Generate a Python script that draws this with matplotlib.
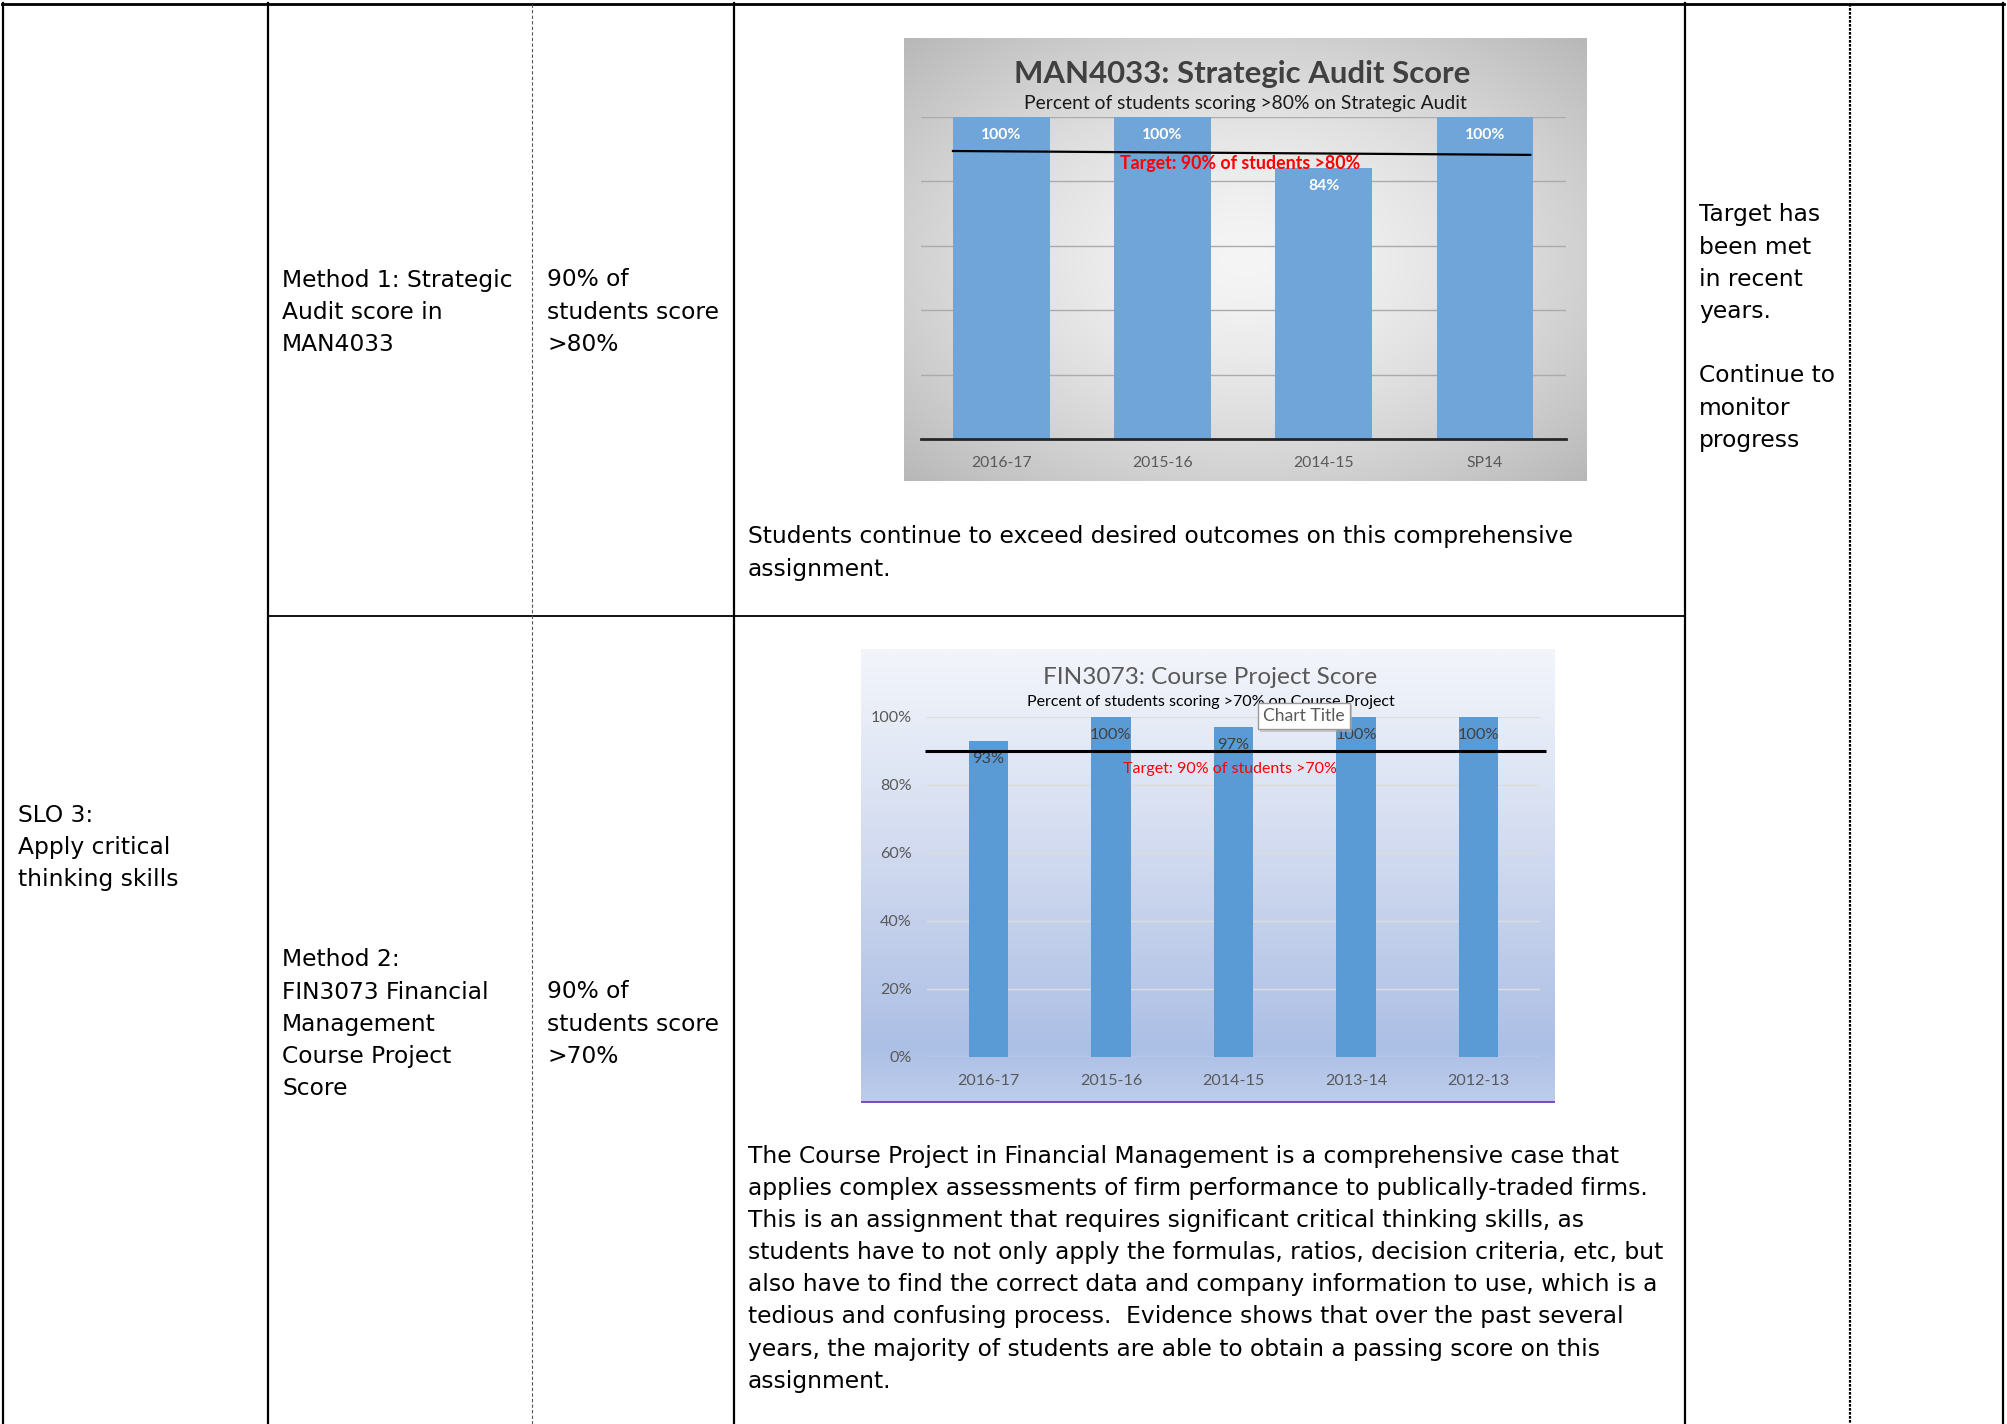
import numpy as np
import matplotlib
matplotlib.use('Agg')
import matplotlib.pyplot as plt

W, H = 2007, 1424

# ---- data ----
audit_years = ['2016-17', '2015-16', '2014-15', 'SP14']
audit_scores = [100, 100, 84, 100]
audit_target = [89.3, 88.1]   # hand drawn target line, slightly tilted

project_years = ['2016-17', '2015-16', '2014-15', '2013-14', '2012-13']
project_scores = [93, 100, 97, 100, 100]
project_target = 90

slo_text = ['SLO 3:', 'Apply critical', 'thinking skills']
method1_text = ['Method 1: Strategic', 'Audit score in', 'MAN4033']
target1_text = ['90% of', 'students score', '>80%']
result1_text = ['Students continue to exceed desired outcomes on this comprehensive',
                'assignment.']
method2_text = ['Method 2:', 'FIN3073 Financial', 'Management', 'Course Project', 'Score']
target2_text = ['90% of', 'students score', '>70%']
result2_text = [
    'The Course Project in Financial Management is a comprehensive case that',
    'applies complex assessments of firm performance to publically-traded firms.',
    'This is an assignment that requires significant critical thinking skills, as',
    'students have to not only apply the formulas, ratios, decision criteria, etc, but',
    'also have to find the correct data and company information to use, which is a',
    'tedious and confusing process.  Evidence shows that over the past several',
    'years, the majority of students are able to obtain a passing score on this',
    'assignment.',
]
action_text = ['Target has', 'been met', 'in recent', 'years.', '',
               'Continue to', 'monitor', 'progress']

CH = ['Lato', 'DejaVu Sans']
TB = 'DejaVu Sans'


def rect(x0, y0, x1, y1):
    return [x0 / W, 1 - y1 / H, (x1 - x0) / W, (y1 - y0) / H]


def fx(x):
    return x / W


def fy(y):
    return 1 - y / H


fig = plt.figure(figsize=(W / 100, H / 100), dpi=100)
fig.patch.set_facecolor('white')

# ---- table ----
ax0 = fig.add_axes([0, 0, 1, 1])
ax0.set_xlim(0, W)
ax0.set_ylim(H, 0)
ax0.set_axis_off()

for xv in [3, 268, 734, 1685, 2003]:
    ax0.plot([xv, xv], [3, H], color='black', lw=1.6)
ax0.plot([2, 2004], [4, 4], color='black', lw=2)
ax0.plot([268, 1685], [616, 616], color='black', lw=1.3)
ax0.plot([532, 532], [4, H], color='#555555', lw=0.8, linestyle=(0, (3, 2)))
ax0.plot([1850, 1850], [4, H], color='black', lw=1.6, linestyle=(0, (1.2, 0.6)))


def lines(x, y0, rows, size=16.8, pitch=32.2):
    for i, r in enumerate(rows):
        ax0.text(x, y0 + i * pitch, r, fontsize=size, family=TB,
                 ha='left', va='center', color='black')


lines(18, 815, slo_text)
lines(282, 280, method1_text)
lines(547, 280, target1_text)
lines(1699, 215, action_text)
lines(748, 537, result1_text)
lines(282, 960, method2_text)
lines(547, 992, target2_text)
lines(748, 1156, result2_text)

# ---- chart 1: strategic audit ----
bg1 = fig.add_axes(rect(904, 38, 1587, 481))
yy, xx = np.mgrid[-1:1:200j, -1:1:300j]
r = np.sqrt(xx ** 2 + yy ** 2) / np.sqrt(2)
shade = np.clip(0.96 - 0.24 * r ** 1.5, 0, 1)
bg1.imshow(np.dstack([shade] * 3), aspect='auto', extent=[0, 1, 0, 1],
           interpolation='bilinear')
bg1.set_axis_off()

p1 = fig.add_axes(rect(920.7, 116.5, 1565.7, 439))
p1.patch.set_alpha(0)
x1 = np.arange(len(audit_years))
p1.bar(x1, audit_scores, width=0.6, color='#6FA5D8', zorder=2)
p1.set_xlim(-0.5, 3.5)
p1.set_ylim(0, 100)
p1.set_yticks([20, 40, 60, 80, 100])
p1.yaxis.grid(True, color='#ABABAB', lw=1)
p1.set_axisbelow(True)
p1.tick_params(axis='y', length=0, labelleft=False)
for s in ['top', 'left', 'right']:
    p1.spines[s].set_visible(False)
p1.spines['bottom'].set_color('#262626')
p1.spines['bottom'].set_linewidth(2)
p1.set_xticks(x1, audit_years)
p1.tick_params(axis='x', length=0, pad=12, labelsize=11.3, labelcolor='#595959')
for lb in p1.get_xticklabels():
    lb.set_family(CH)
for xi, v in zip(x1, audit_scores):
    p1.annotate(f'{v}%', (xi, v), xytext=(0, -13), textcoords='offset points',
                ha='center', va='center', color='white', fontweight='bold',
                fontsize=11.3, family=CH)
p1.plot([-0.3, 3.28], audit_target, color='black', lw=1.6, zorder=3)
p1.text(1.48, 85.3, 'Target: 90% of students >80%', color='#FF0000',
        fontweight='bold', fontsize=12.8, family=CH, ha='center', va='center')
fig.text(fx(1242), fy(74), 'MAN4033: Strategic Audit Score', fontsize=22.4,
         fontweight='bold', color='#404040', family=CH, ha='center', va='center')
fig.text(fx(1245), fy(103), 'Percent of students scoring >80% on Strategic Audit',
         fontsize=13.9, color='#1A1A1A', family=CH, ha='center', va='center')

# ---- chart 2: course project ----
bg2 = fig.add_axes(rect(861, 649, 1555, 1103))
t = np.linspace(0, 1, 300)
stops = [0.0, 0.15, 0.5, 0.88, 1.0]
cols = np.array([[243, 245, 251], [232, 237, 247], [205, 215, 238],
                 [172, 191, 229], [190, 205, 235]]) / 255
grad = np.stack([np.interp(t, stops, cols[:, k]) for k in range(3)], axis=1)
bg2.imshow(np.repeat(grad[:, None, :], 10, axis=1), aspect='auto',
           extent=[0, 1, 0, 1], interpolation='bilinear')
bg2.plot([0, 1], [0.003, 0.003], color='#7B4FBF', lw=1.5)
bg2.set_xlim(0, 1)
bg2.set_ylim(0, 1)
bg2.set_axis_off()

p2 = fig.add_axes(rect(927, 717, 1540, 1057))
p2.patch.set_alpha(0)
x2 = np.arange(len(project_years))
p2.bar(x2, project_scores, width=0.32, color='#5B9BD5', zorder=2)
p2.set_xlim(-0.5, 4.5)
p2.set_ylim(0, 100)
p2.set_yticks(np.arange(0, 101, 20), [f'{v}%' for v in range(0, 101, 20)])
p2.yaxis.grid(True, color='#DCDCDC', lw=1)
p2.set_axisbelow(True)
for s in p2.spines.values():
    s.set_visible(False)
p2.tick_params(axis='y', length=0, pad=11, labelsize=11.6, labelcolor='#595959')
p2.set_xticks(x2, project_years)
p2.tick_params(axis='x', length=0, pad=12, labelsize=11.6, labelcolor='#595959')
for lb in p2.get_xticklabels() + p2.get_yticklabels():
    lb.set_family(CH)
for xi, v in zip(x2, project_scores):
    p2.annotate(f'{v}%', (xi, v), xytext=(0, -13), textcoords='offset points',
                ha='center', va='center', color='#404040', fontsize=11.8, family=CH)
p2.hlines(project_target, -0.52, 4.55, color='black', lw=2.2, zorder=3, clip_on=False)
p2.text(1.97, 84.7, 'Target: 90% of students >70%', color='#FF0000',
        fontsize=11.5, family=CH, ha='center', va='center')
fig.text(fx(1210), fy(678), 'FIN3073: Course Project Score', fontsize=17.6,
         color='#595959', family=CH, ha='center', va='center')
fig.text(fx(1211), fy(702), 'Percent of students scoring >70% on Course Project',
         fontsize=11.5, color='black', family=CH, ha='center', va='center')
# grey drop shadow of the tooltip box, then the box itself
fig.text(fx(1306), fy(718.5), 'Chart Title', fontsize=12.6, color='none',
         family=CH, ha='center', va='center',
         bbox=dict(boxstyle='square,pad=0.3', fc='#B0B0B0', ec='none', alpha=0.6))
fig.text(fx(1304), fy(716), 'Chart Title', fontsize=12.6, color='#595959',
         family=CH, ha='center', va='center',
         bbox=dict(boxstyle='square,pad=0.3', fc='white', ec='#9A9A9A', lw=1))

fig.savefig('out.png', dpi=100)
